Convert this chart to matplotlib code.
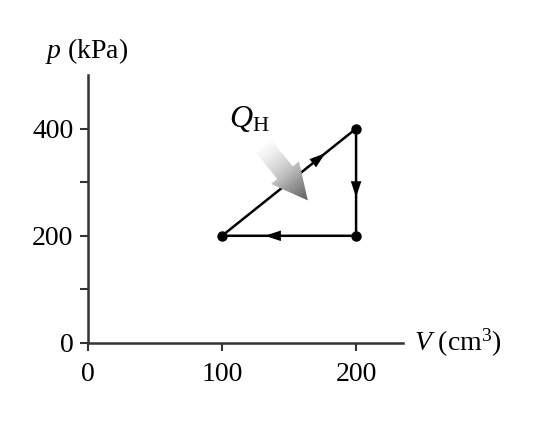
import numpy as np
import matplotlib.pyplot as plt
from matplotlib.patches import Polygon

# cycle vertices (V in cm^3, p in kPa)
volume = [100, 200, 200, 100]
pressure = [200, 400, 200, 200]
y_ticks = [0, 100, 200, 300, 400]
y_labels = ['0', '', '200', '', '400']
x_ticks = [0, 100, 200]
x_labels = ['0', '100', '200']

plt.rcParams['font.family'] = ['Liberation Serif', 'DejaVu Serif']
plt.rcParams['mathtext.fontset'] = 'custom'
plt.rcParams['mathtext.it'] = 'Liberation Serif:italic'
plt.rcParams['mathtext.rm'] = 'Liberation Serif'

fig = plt.figure(figsize=(5.58, 4.48), dpi=100)
ax = fig.add_axes([0.1577, 0.2344, 0.5645, 0.5982])
ax.set_xlim(0, 235)
ax.set_ylim(0, 500)

for s in ['top', 'right']:
    ax.spines[s].set_visible(False)
for s in ['left', 'bottom']:
    ax.spines[s].set_linewidth(1.8)
    ax.spines[s].set_color('#333333')

ax.set_xticks(x_ticks)
ax.set_xticklabels(x_labels)
ax.set_yticks(y_ticks)
ax.set_yticklabels(y_labels)
ax.tick_params(direction='out', length=6, width=1.5, color='#333333',
               labelsize=20)
ax.tick_params(axis='x', pad=8)
ax.tick_params(axis='y', pad=4.5)

# the cycle lines
ax.plot(volume, pressure, color='black', lw=1.8, solid_capstyle='round')
ax.plot(volume[:3], pressure[:3], 'o', color='black', ms=6.5)


def mid_arrow(x0, y0, x1, y1, frac):
    xm = x0 + (x1 - x0) * frac
    ym = y0 + (y1 - y0) * frac
    xb = x0 + (x1 - x0) * (frac - 0.02)
    yb = y0 + (y1 - y0) * (frac - 0.02)
    ax.annotate('', xy=(xm, ym), xytext=(xb, yb),
                arrowprops=dict(arrowstyle='-|>,head_length=1.15,head_width=0.38',
                                color='black', lw=0, shrinkA=0, shrinkB=0))


mid_arrow(volume[0], pressure[0], volume[1], pressure[1], 0.77)
mid_arrow(volume[1], pressure[1], volume[2], pressure[2], 0.64)
mid_arrow(volume[2], pressure[2], volume[3], pressure[3], 0.68)

# gradient Q_H arrow, shaped in pixel units then mapped to data
sx, sy = 1.34, 0.5375
tip = np.array([164.0, 266.0])
d = np.array([45.0, 55.0]); d /= np.hypot(*d)
n = np.array([-d[1], d[0]])
L, hl, sw, hw = 70.0, 36.0, 10.0, 18.0
pts_px = [-d * L + n * sw, -d * hl + n * sw, -d * hl + n * hw, np.zeros(2),
          -d * hl - n * hw, -d * hl - n * sw, -d * L - n * sw]
pts = [(tip[0] + p[0] / sx, tip[1] - p[1] / sy) for p in pts_px]
poly = Polygon(pts, closed=True, facecolor='none', edgecolor='none')
ax.add_patch(poly)
gx = np.linspace(100, 200, 200)
gy = np.linspace(200, 450, 300)
GX, GY = np.meshgrid(gx, gy)
proj = ((GX - tip[0]) * sx * d[0] - (GY - tip[1]) * sy * d[1])
val = np.clip((proj + L) / L, 0, 1)
im = ax.imshow(val, extent=(100, 200, 200, 450), origin='lower', cmap='Greys',
               vmin=-0.05, vmax=1.45, aspect='auto', interpolation='bilinear', zorder=3)
im.set_clip_path(poly)

ax.text(-1, 545, r'$p$ (kPa)', fontsize=20, ha='center', va='center')
ax.text(120, 418, r'$Q_{\mathrm{H}}$', fontsize=23, ha='center', va='center')
ax.text(243, 0, r'$V$ (cm$^3$)', fontsize=20, ha='left', va='center')

fig.savefig('out.png', dpi=100)
